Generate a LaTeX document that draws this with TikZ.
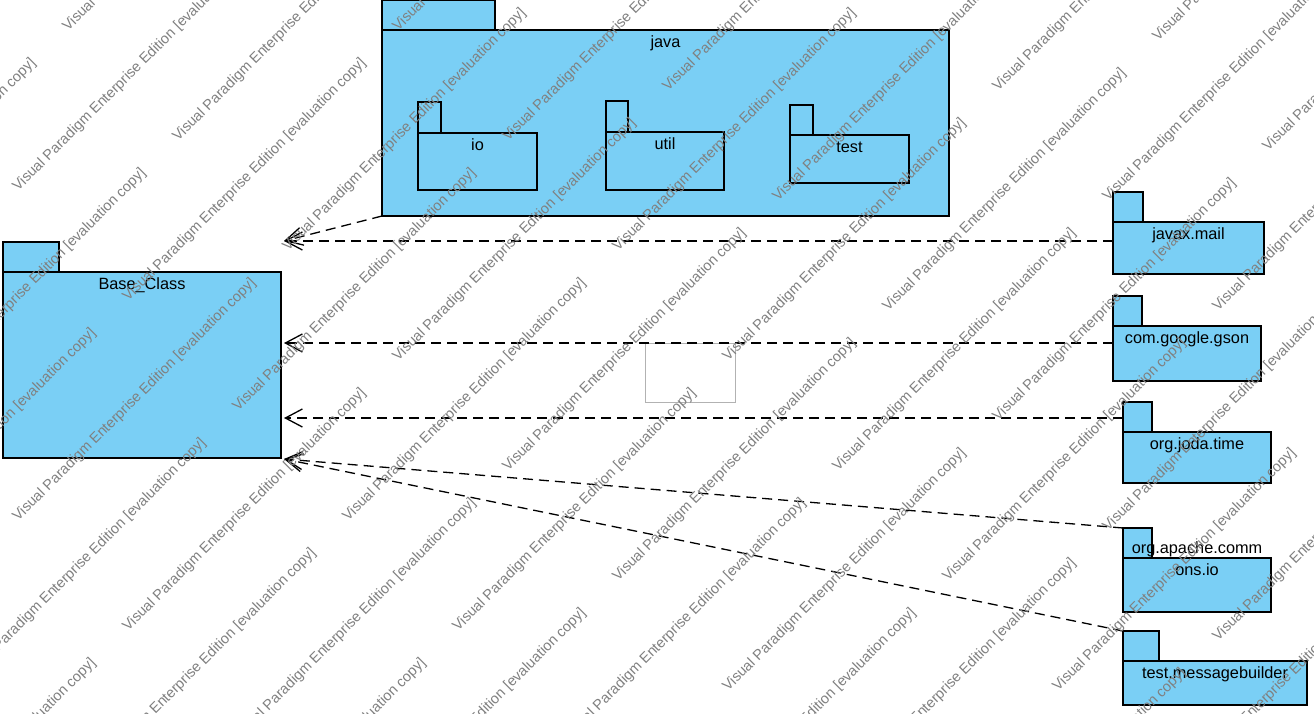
\documentclass[tikz,border=0pt]{standalone}
\usepackage{fontspec}
\setmainfont{Liberation Sans}
\usetikzlibrary{arrows.meta}
\definecolor{pkgblue}{RGB}{122,207,245}
\definecolor{markgray}{RGB}{128,128,128}

\begin{document}
\begin{tikzpicture}[x=1pt, y=-1pt,
    mypkg/.style={rectangle, draw=black, line width=1.3pt, fill=pkgblue, inner sep=0pt, outer sep=0pt, anchor=north west},
    mytab/.style={mypkg, anchor=south west, minimum height=30pt},
    mylabel/.style={anchor=base, align=center, font=\fontsize{16.3}{22}\selectfont},
    myarrow/.style={line width=1.3pt, dash pattern=on 10pt off 6pt, -{Straight Barb[length=17pt, width=18pt]}},
    mymark/.style={anchor=base west, inner sep=0pt, rotate=45, text=markgray, font=\fontsize{14.5}{17}\selectfont},
]
\useasboundingbox[fill=white] (0,0) rectangle (1314,713);

% java and its sub packages
\node[mypkg, minimum width=567pt, minimum height=186pt] (java) at (382,30) {};
\node[mytab, minimum width=113pt] (javaT) at (java.north west) {};
\node[mylabel] (javaL) at ([yshift=-17.5pt]java.north) {java};

\node[mypkg, minimum width=119pt, minimum height=57pt] (io) at (418,133) {};
\node[mytab, minimum width=23pt, minimum height=31pt] (ioT) at (io.north west) {};
\node[mylabel] (ioL) at ([yshift=-17.5pt]io.north) {io};

\node[mypkg, minimum width=118pt, minimum height=58pt] (util) at (606,132) {};
\node[mytab, minimum width=22pt, minimum height=31pt] (utilT) at (util.north west) {};
\node[mylabel] (utilL) at ([yshift=-17.5pt]util.north) {util};

\node[mypkg, minimum width=119pt, minimum height=48pt] (test) at (790,135) {};
\node[mytab, minimum width=23pt] (testT) at (test.north west) {};
\node[mylabel] (testL) at ([yshift=-17.5pt]test.north) {test};

% Base_Class
\node[mypkg, minimum width=278pt, minimum height=186pt] (base) at (3,272) {};
\node[mytab, minimum width=56pt] (baseT) at (base.north west) {};
\node[mylabel] (baseL) at ([yshift=-17.5pt]base.north) {Base\_Class};

% libraries on the right
\node[mypkg, minimum width=151pt, minimum height=52pt] (mail) at (1113,222) {};
\node[mytab, minimum width=30pt] (mailT) at (mail.north west) {};
\node[mylabel] (mailL) at ([yshift=-17.5pt]mail.north) {javax.mail};

\node[mypkg, minimum width=148pt, minimum height=55pt] (gson) at (1113,326) {};
\node[mytab, minimum width=29pt] (gsonT) at (gson.north west) {};
\node[mylabel] (gsonL) at ([yshift=-17.5pt]gson.north) {com.google.gson};

\node[mypkg, minimum width=148pt, minimum height=51pt] (joda) at (1123,432) {};
\node[mytab, minimum width=29pt] (jodaT) at (joda.north west) {};
\node[mylabel] (jodaL) at ([yshift=-17.5pt]joda.north) {org.joda.time};

\node[mypkg, minimum width=148pt, minimum height=54pt] (apache) at (1123,558) {};
\node[mytab, minimum width=29pt] (apacheT) at (apache.north west) {};
\node[mylabel] (apacheL) at ([yshift=-17.5pt]apache.north) {org.apache.comm\\ons.io};

\node[mypkg, minimum width=184pt, minimum height=44pt] (msg) at (1123,661) {};
\node[mytab, minimum width=36pt] (msgT) at (msg.north west) {};
\node[mylabel] (msgL) at ([yshift=-17.5pt]msg.north) {test.messagebuilder};

% empty grey box
\node[rectangle, draw=black!30, line width=0.8pt, inner sep=0pt, outer sep=0pt, anchor=north west,
      minimum width=90pt, minimum height=59pt] (blank) at (645,343) {};

% dependencies
\coordinate (tipA) at (284,241);
\coordinate (tipB) at (284,343);
\coordinate (tipC) at (284,418);
\coordinate (tipD) at (284,459);

\draw[myarrow] (java.south west) -- (tipA);
\draw[myarrow] (mail.west |- tipA) -- (tipA);
\draw[myarrow] (gson.west |- tipB) -- (tipB);
\draw[myarrow] (jodaT.west |- tipC) -- (tipC);
\draw[myarrow] (apacheT.north west) -- (tipD);
\draw[myarrow] (msgT.north west) -- (tipD);

% watermark
\begin{scope}
\clip (0,0) rectangle (1314,713);
\foreach \i in {0,...,19} {
  \foreach \j in {-3,...,2} {
    \pgfmathsetmacro\ms{-10+110*\i}
    \pgfmathsetmacro\mt{(isodd(\i) ? 36 : 366)+540*\j}
    \pgfmathsetmacro\mx{(\ms+\mt)/2}
    \pgfmathsetmacro\my{(\ms-\mt)/2}
    \pgfmathtruncatemacro\mvis{(\mx>-245) && (\mx<1314) && (\my>0) && (\my<955) ? 1 : 0}
    \ifnum\mvis=1
      \node[mymark] (wm-\i-\j) at (\mx,\my) {Visual Paradigm Enterprise Edition [evaluation copy]};
    \fi
  }
}
\end{scope}
\end{tikzpicture}
\end{document}
